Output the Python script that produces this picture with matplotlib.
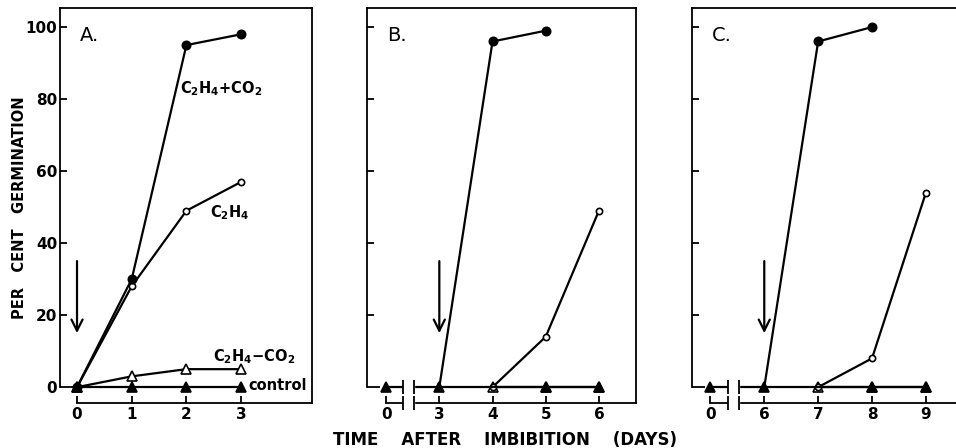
import matplotlib
matplotlib.use('Agg')
import matplotlib.pyplot as plt

plt.rcParams['font.family'] = ['DejaVu Sans']
plt.rcParams['mathtext.default'] = 'regular'

# Panel A: treatments applied at day 0
days_a = [0, 1, 2, 3]
plus_a = [0, 30, 95, 98]      # C2H4 + CO2
eth_a = [0, 28, 49, 57]       # C2H4
minus_a = [0, 3, 5, 5]        # C2H4 - CO2
control_a = [0, 0, 0, 0]

# Panel B: treatments applied at day 3
plus_days_b = [3, 4, 5]
plus_b = [0, 96, 99]
eth_days_b = [4, 5, 6]
eth_b = [0, 14, 49]
minus_days_b = [4, 5, 6]
minus_b = [0, 0, 0]
control_days_b = [0, 3, 4, 5, 6]
control_b = [0, 0, 0, 0, 0]

# Panel C: treatments applied at day 6
plus_days_c = [6, 7, 8]
plus_c = [0, 96, 100]
eth_days_c = [7, 8, 9]
eth_c = [0, 8, 54]
minus_days_c = [7, 8, 9]
minus_c = [0, 0, 0]
control_days_c = [0, 6, 7, 8, 9]
control_c = [0, 0, 0, 0, 0]

yticks = [0, 20, 40, 60, 80, 100]
ylim = (-4.4, 105.3)
LW = 1.6
SPINE = 1.3

fig = plt.figure(figsize=(9.56, 4.48), dpi=100)


def rect(l, r, t, b):
    return [l / 956, (448 - b) / 448, (r - l) / 956, (b - t) / 448]


def frame(ax, xlim, first_tick, xticks, xlabels, show_ylabels):
    ax.set_xlim(*xlim)
    ax.set_ylim(*ylim)
    for s in ax.spines.values():
        s.set_linewidth(SPINE)
    ax.spines['left'].set_bounds(0, ylim[1])
    ax.spines['bottom'].set_bounds(first_tick, xlim[1])
    ax.set_yticks(yticks)
    ax.set_xticks(xticks)
    ax.set_xticklabels(xlabels, fontweight='bold', fontsize=11)
    if show_ylabels:
        ax.set_yticklabels([str(v) for v in yticks], fontweight='bold', fontsize=11)
    else:
        ax.set_yticklabels([])
    ax.tick_params(axis='both', direction='in', length=5, width=SPINE)
    ax.tick_params(axis='y', pad=2)
    ax.tick_params(axis='x', pad=3)
    ax.yaxis.get_major_ticks()[0].tick1line.set_markersize(9)


def arrow(ax, x):
    ax.annotate('', xy=(x, 15), xytext=(x, 35),
                arrowprops=dict(arrowstyle='->', lw=LW, color='black',
                                mutation_scale=20, shrinkA=0, shrinkB=0))


def series(ax, x, y, marker, face, ms, z=3, markevery=None):
    ax.plot(x, y, color='black', lw=LW, marker=marker, ms=ms,
            mfc=face, mec='black', mew=1.2, zorder=z, markevery=markevery)


# ---- Panel A ----
ax = fig.add_axes(rect(60, 312, 8, 403))
frame(ax, (-0.311, 4.296), 0, days_a, [str(d) for d in days_a], True)
series(ax, days_a, minus_a, '^', 'white', 7)
series(ax, days_a, control_a, '^', 'black', 7, z=4)
series(ax, days_a, eth_a, 'o', 'white', 4.5)
series(ax, days_a, plus_a, 'o', 'black', 6)
arrow(ax, 0)
ax.text(0.08, 0.955, 'A.', transform=ax.transAxes, fontsize=14,
        va='top', ha='left')
ax.text(1.88, 83, r'C$_2$H$_4$+CO$_2$', fontsize=10.5, fontweight='bold', va='center')
ax.text(2.43, 48.6, r'C$_2$H$_4$', fontsize=10.5, fontweight='bold', va='center')
ax.text(2.49, 8.5, r'C$_2$H$_4$$-$CO$_2$', fontsize=10.5, fontweight='bold', va='center')
ax.text(3.13, 0.5, 'control', fontsize=10.5, fontweight='bold', va='center')


def later_panel(ax, day0_pos, xlim, plus_d, plus, eth_d, eth, minus_d, minus,
                ctrl_d, ctrl, label, label_x):
    pos = lambda days: [day0_pos if d == 0 else d for d in days]
    xt = pos(ctrl_d)
    frame(ax, xlim, day0_pos, xt, [str(d) for d in ctrl_d], False)
    series(ax, pos(minus_d), minus, '^', 'white', 7)
    skip = [i for i, d in enumerate(ctrl_d) if d not in minus_d[:1]]
    series(ax, xt, ctrl, '^', 'black', 7, z=5, markevery=skip)
    series(ax, pos(eth_d), eth, 'o', 'white', 4.5)
    series(ax, pos(plus_d), plus, 'o', 'black', 6, markevery=list(range(1, len(plus))))
    arrow(ax, plus_d[0])
    # axis break between day 0 and the treatment day
    lo, hi = day0_pos + 0.32, day0_pos + 0.53
    ax.axvspan(lo, hi, ymin=-0.02, ymax=0.08, color='white', zorder=6,
               clip_on=False)
    ax.plot([lo, hi], [0, 0], ls='none', marker='|', ms=10, mew=SPINE,
            color='black', zorder=7)
    ax.plot([lo, hi], [ylim[0], ylim[0]], ls='none', marker='|', ms=10,
            mew=SPINE, color='black', zorder=7, clip_on=False)
    ax.text(label_x, 0.955, label, transform=ax.transAxes, fontsize=14,
            va='top', ha='left')


ax = fig.add_axes(rect(366.7, 636, 8, 403))
later_panel(ax, 2, (1.635, 6.697), plus_days_b, plus_b, eth_days_b, eth_b,
            minus_days_b, minus_b, control_days_b, control_b, 'B.', 0.075)

ax = fig.add_axes(rect(691.7, 990, 8, 403))
later_panel(ax, 5, (4.653, 10.19), plus_days_c, plus_c, eth_days_c, eth_c,
            minus_days_c, minus_c, control_days_c, control_c, 'C.', 0.068)

fig.text(20 / 956, (448 - 208) / 448, 'PER   CENT   GERMINATION', rotation=90,
         fontsize=10.5, fontweight='bold', ha='center', va='center')
fig.text(505 / 956, (448 - 440) / 448, 'TIME    AFTER    IMBIBITION    (DAYS)',
         fontsize=12, fontweight='bold', ha='center', va='center')

fig.savefig('out.png', dpi=100)
